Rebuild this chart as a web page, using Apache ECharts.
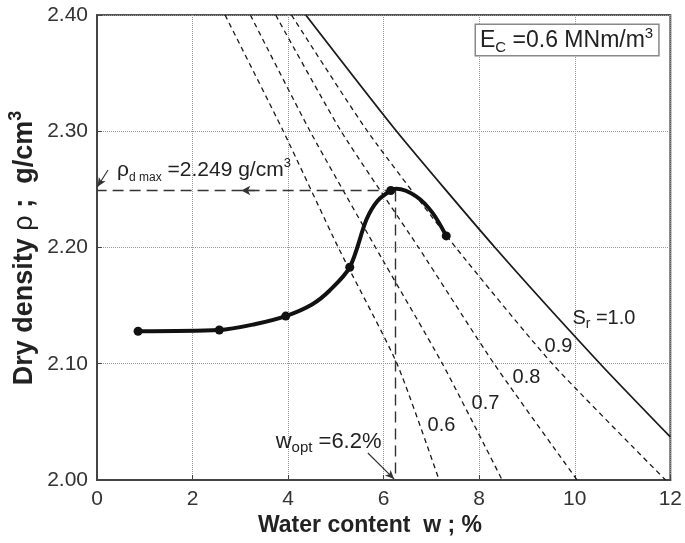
<!DOCTYPE html>
<html>
<head>
<meta charset="utf-8">
<script src="https://cdn.jsdelivr.net/npm/echarts@6/dist/echarts.min.js"></script>
<style>
  html, body { margin: 0; padding: 0; background: #fff; }
  #main { width: 685px; height: 543px; }
</style>
</head>
<body>
<div id="main"></div>
<script>
// compaction test points (water content %, dry density g/cm3)
const waterContent = [0.86, 2.56, 3.95, 5.29, 6.15, 7.31];
const dryDensity = [2.128, 2.129, 2.141, 2.183, 2.249, 2.210];

// fitted compaction curve
const curveW = [0.86, 2.56, 3.3, 3.95, 4.5, 4.87, 5.29, 5.64, 5.87, 6.15, 6.27, 6.68, 7.02, 7.31];
const curveRho = [2.128, 2.129, 2.134, 2.141, 2.151, 2.163, 2.183, 2.224, 2.240, 2.249, 2.2505, 2.244, 2.230, 2.210];

// saturation curves, read where they cross the density grid lines
const rhoLevels = [2.40, 2.30, 2.20, 2.10, 2.00];
const wSr06 = [2.68, 3.90, 5.05, 6.28, 7.16];
const wSr07 = [3.21, 4.46, 5.83, 7.23, 8.48];
const wSr08 = [3.74, 5.11, 6.73, 8.31, 10.05];
const wSr09 = [4.07, 5.66, 7.51, 9.53, 11.90];
const wSr10 = [4.37, 6.27, 8.33, 10.53, 12.0];
const rhoSr10 = [2.40, 2.30, 2.20, 2.10, 2.037];

// optimum
const wOpt = 6.25;
const rhoMax = 2.249;

// curve labels
const srLabels = ['0.6', '0.7', '0.8', '0.9'];
const srLabelW = [7.21, 8.13, 8.99, 9.66];
const srLabelRho = [2.0465, 2.0662, 2.0886, 2.115];

const FONT = '"Liberation Sans", Arial, sans-serif';
const INK = '#222';

function pts(xs, ys) {
  return xs.map((x, i) => [x, ys[i]]);
}

const chart = echarts.init(document.getElementById('main'));

const dashed = { color: '#1a1a1a', width: 1.3, type: [5, 4] };

function satSeries(name, xs, ys, style) {
  return {
    name: name,
    type: 'line',
    data: pts(xs, ys),
    showSymbol: false,
    smooth: 0.2,
    silent: true,
    lineStyle: style,
    z: 2
  };
}

const option = {
  animation: false,
  grid: {
    left: 97, right: 14, top: 15, bottom: 63,
    show: true, borderColor: '#555', borderWidth: 2
  },
  xAxis: {
    type: 'value', min: 0, max: 12, interval: 2,
    axisLine: { show: true, lineStyle: { color: '#444', width: 2 } },
    axisTick: { show: true, inside: true, length: 5, lineStyle: { color: '#444' } },
    axisLabel: { fontFamily: FONT, fontSize: 21, color: '#333', margin: 9 },
    splitLine: { show: true, lineStyle: { color: '#999', type: 'dotted', width: 1 } }
  },
  yAxis: {
    type: 'value', min: 2.0, max: 2.4, interval: 0.1,
    axisLine: { show: true, lineStyle: { color: '#444', width: 2 } },
    axisTick: { show: true, inside: true, length: 5, lineStyle: { color: '#444' } },
    axisLabel: {
      fontFamily: FONT, fontSize: 21, color: '#333', margin: 9,
      formatter: v => v.toFixed(2)
    },
    splitLine: { show: true, lineStyle: { color: '#999', type: 'dotted', width: 1 } }
  },
  series: [
    satSeries('Sr=0.6', wSr06, rhoLevels, dashed),
    satSeries('Sr=0.7', wSr07, rhoLevels, dashed),
    satSeries('Sr=0.8', wSr08, rhoLevels, dashed),
    satSeries('Sr=0.9', wSr09, rhoLevels, dashed),
    satSeries('Sr=1.0', wSr10, rhoSr10, { color: '#1a1a1a', width: 1.8, type: 'solid' }),
    {
      name: 'compaction curve',
      type: 'line',
      data: pts(curveW, curveRho),
      smooth: 0.3,
      showSymbol: false,
      silent: true,
      lineStyle: { color: '#111', width: 4 },
      z: 5,
      markLine: {
        silent: true,
        symbol: ['none', 'none'],
        label: { show: false },
        lineStyle: { color: '#333', width: 1.4, type: [11, 6] },
        data: [
          [{ coord: [wOpt, rhoMax] }, { coord: [wOpt, 2.0] }],
          [{ coord: [wOpt, rhoMax] }, { coord: [0, rhoMax] }],
          [{ coord: [3.3, rhoMax], symbol: 'none' },
           { coord: [3.02, rhoMax], symbol: 'arrow', symbolSize: [7, 9] }],
          [{ coord: [0.23, 2.2667], symbol: 'none', lineStyle: { type: 'solid', width: 1.2 } },
           { coord: [0.01, 2.2523], symbol: 'arrow', symbolSize: [6, 9] }],
          [{ coord: [5.67, 2.0232], symbol: 'none', lineStyle: { type: 'solid', width: 1.2 } },
           { coord: [6.22, 2.0008], symbol: 'arrow', symbolSize: [6, 9] }]
        ]
      }
    },
    {
      name: 'test points',
      type: 'scatter',
      data: pts(waterContent, dryDensity),
      symbol: 'circle',
      symbolSize: 9,
      itemStyle: { color: '#111', opacity: 1 },
      z: 6
    }
  ]
};

chart.setOption(option);

const px = (x, y) => chart.convertToPixel({ gridIndex: 0 }, [x, y]);

function txt(pos, text, rich, extra) {
  return {
    type: 'text',
    x: pos[0], y: pos[1],
    z: 10,
    style: Object.assign({
      text: text, rich: rich,
      fontFamily: FONT, fontSize: 20, fill: INK,
      align: 'left', verticalAlign: 'middle'
    }, extra || {})
  };
}

const sub = (size) => ({ fontFamily: FONT, fontSize: size, fill: INK, verticalAlign: 'bottom', padding: [0, 0, -3, 0] });
const sup = (size) => ({ fontFamily: FONT, fontSize: size, fill: INK, verticalAlign: 'top', padding: [-3, 0, 0, 0] });
const norm = (size) => ({ fontFamily: FONT, fontSize: size, fill: INK });

const graphics = [];

srLabels.forEach((s, i) => {
  graphics.push(txt(px(srLabelW[i], srLabelRho[i]), s, null, { align: 'center' }));
});

graphics.push(txt(px(9.95, 2.139), '{n|S}{s|r}{n| =1.0}',
  { n: norm(20), s: sub(14) }));

graphics.push(txt(px(0.42, 2.2662), '{n|\u03c1}{s|d max}{n| =2.249 g/cm}{p|3}',
  { n: norm(21), s: sub(12), p: sup(13) }));

graphics.push(txt(px(3.74, 2.033), '{n|w}{s|opt}{n| =6.2%}',
  { n: norm(22), s: sub(15) }));

graphics.push(txt([476, 25], '{n|E}{s|C}{n| =0.6 MNm/m}{p|3}',
  { n: norm(23), s: sub(15), p: sup(15) },
  { verticalAlign: 'top', borderColor: '#888', borderWidth: 1.5, padding: [4, 5, 3, 4], backgroundColor: '#fff' }));

// axis titles
graphics.push({
  type: 'text', x: 370, y: 526, z: 10,
  style: {
    text: 'Water content  w ; %',
    fontFamily: FONT, fontSize: 23, fontWeight: 'bold', fill: INK,
    align: 'center', verticalAlign: 'middle'
  }
});
graphics.push({
  type: 'text', x: 25, y: 248, rotation: Math.PI / 2, z: 10,
  style: {
    text: '{b|Dry density }{r|\u03c1}{b| ;  g/cm}{p|3}',
    rich: {
      b: { fontFamily: FONT, fontSize: 27, fontWeight: 'bold', fill: INK },
      r: { fontFamily: FONT, fontSize: 27, fill: INK },
      p: { fontFamily: FONT, fontSize: 18, fontWeight: 'bold', fill: INK, verticalAlign: 'top', padding: [-4, 0, 0, 0] }
    },
    align: 'center', verticalAlign: 'middle'
  }
});

chart.setOption({ graphic: graphics });
</script>
</body>
</html>
